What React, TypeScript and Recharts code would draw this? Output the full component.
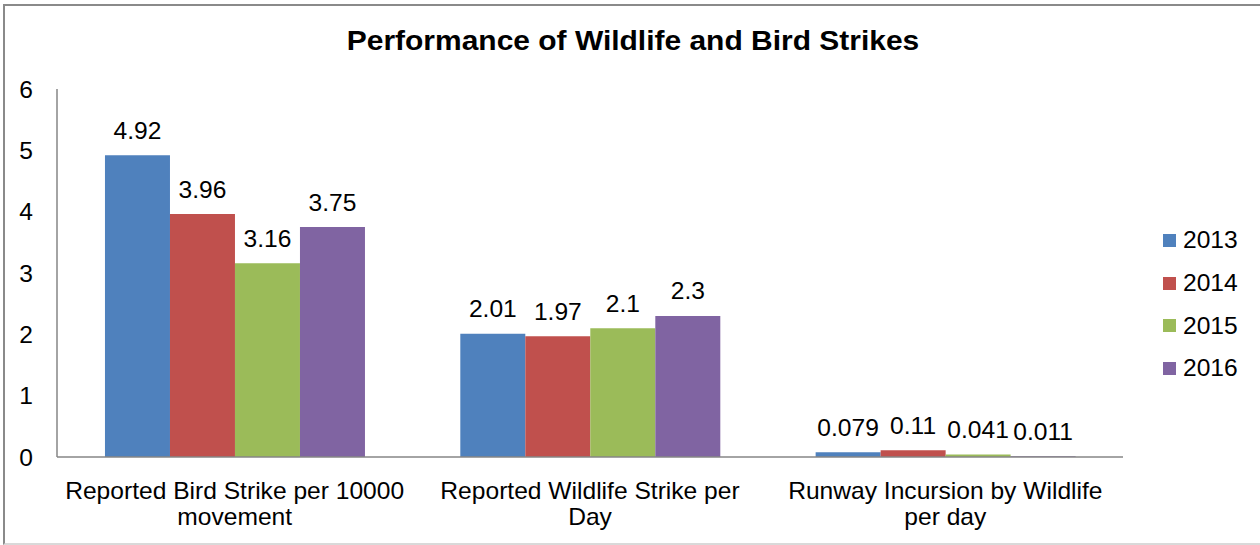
import React from 'react'
import { BarChart, Bar, XAxis, YAxis, Legend, LabelList } from 'recharts'

const categories = [
  'Reported Bird Strike per 10000\nmovement',
  'Reported Wildlife Strike per\nDay',
  'Runway Incursion by Wildlife\nper day'
]
const years = ['2013', '2014', '2015', '2016']
const values2013 = [4.92, 2.01, 0.079]
const values2014 = [3.96, 1.97, 0.11]
const values2015 = [3.16, 2.1, 0.041]
const values2016 = [3.75, 2.3, 0.011]
const yTicks = [0, 1, 2, 3, 4, 5, 6]

const COLORS = ['#4F81BD', '#C0504D', '#9BBB59', '#8064A2']
const FONT = '"Liberation Sans", Arial, sans-serif'
const FS = 23
const SX = 1.07
const AXIS = '#868686'

const series = [values2013, values2014, values2015, values2016]
const data = categories.map((name, i) => {
  const row: Record<string, string | number> = { name }
  years.forEach((y, k) => {
    row[y] = series[k][i]
  })
  return row
})

function XTick({ x, y, payload }: any) {
  const lines = String(payload.value).split('\n')
  return (
    <g>
      {lines.map((line, i) => (
        <text
          key={i}
          transform={`translate(${x},${y + 40 + i * 26}) scale(${SX},1)`}
          textAnchor="middle"
          fontFamily={FONT}
          fontSize={FS}
          fill="#000"
        >
          {line}
        </text>
      ))}
    </g>
  )
}

function YTick({ x, y, payload }: any) {
  return (
    <text
      transform={`translate(${x - 22},${y + 8.5}) scale(${SX},1)`}
      textAnchor="end"
      fontFamily={FONT}
      fontSize={FS}
      fill="#000"
    >
      {payload.value}
    </text>
  )
}

function ValueLabel({ x, y, width, value }: any) {
  return (
    <text
      transform={`translate(${x + width / 2},${y - 16.5}) scale(${SX},1)`}
      textAnchor="middle"
      fontFamily={FONT}
      fontSize={FS}
      fill="#000"
    >
      {value}
    </text>
  )
}

function LegendBox({ payload }: any) {
  return (
    <div style={{ paddingLeft: 40 }}>
      {(payload || []).map((entry: any) => (
        <div key={entry.value} style={{ height: 42.7, display: 'flex', alignItems: 'center' }}>
          <span style={{ width: 13, height: 13, flexShrink: 0, background: entry.color, display: 'inline-block' }} />
          <span
            style={{
              marginLeft: 7,
              fontFamily: FONT,
              fontSize: FS,
              lineHeight: '26px',
              color: '#000',
              whiteSpace: 'nowrap',
              transform: `scaleX(${SX})`,
              transformOrigin: 'left center',
              display: 'inline-block'
            }}
          >
            {entry.value}
          </span>
        </div>
      ))}
    </div>
  )
}

export default function App() {
  return (
    <div style={{ position: 'absolute', left: 0, top: 0, width: 1260, height: 545, background: '#fff', overflow: 'hidden' }}>
      <div
        style={{
          position: 'absolute',
          left: 3,
          top: 4,
          width: 1270,
          height: 537,
          borderLeft: '2px solid #8a8a8a',
          borderTop: '2px solid #8a8a8a',
          borderBottom: '2px solid #d9d9d9'
        }}
      />
      <div
        style={{
          position: 'absolute',
          left: 633,
          top: 24,
          transform: `translateX(-50%) scaleX(${SX})`,
          fontFamily: FONT,
          fontWeight: 700,
          fontSize: 28,
          lineHeight: '34px',
          whiteSpace: 'nowrap',
          color: '#000'
        }}
      >
        Performance of Wildlife and Bird Strikes
      </div>
      <BarChart
        width={1260}
        height={545}
        data={data}
        margin={{ top: 89, right: 17, bottom: 8, left: 0 }}
        barCategoryGap="13.5%"
        barGap={0}
        style={{ position: 'absolute', left: 0, top: 0 }}
      >
        <XAxis
          dataKey="name"
          tickLine={false}
          tickSize={0}
          height={80}
          axisLine={{ stroke: AXIS, strokeWidth: 1.5 }}
          tick={<XTick />}
          interval={0}
        />
        <YAxis
          domain={[0, 6]}
          ticks={yTicks}
          width={57}
          tickLine={false}
          tickSize={0}
          axisLine={{ stroke: AXIS, strokeWidth: 1.5 }}
          tick={<YTick />}
        />
        <Legend
          layout="vertical"
          align="right"
          verticalAlign="middle"
          wrapperStyle={{ top: 219, right: 17, width: 120 }}
          content={<LegendBox />}
        />
        {years.map((y, k) => (
          <Bar key={y} dataKey={y} name={y} fill={COLORS[k]} isAnimationActive={false}>
            <LabelList dataKey={y} content={<ValueLabel />} />
          </Bar>
        ))}
      </BarChart>
    </div>
  )
}
